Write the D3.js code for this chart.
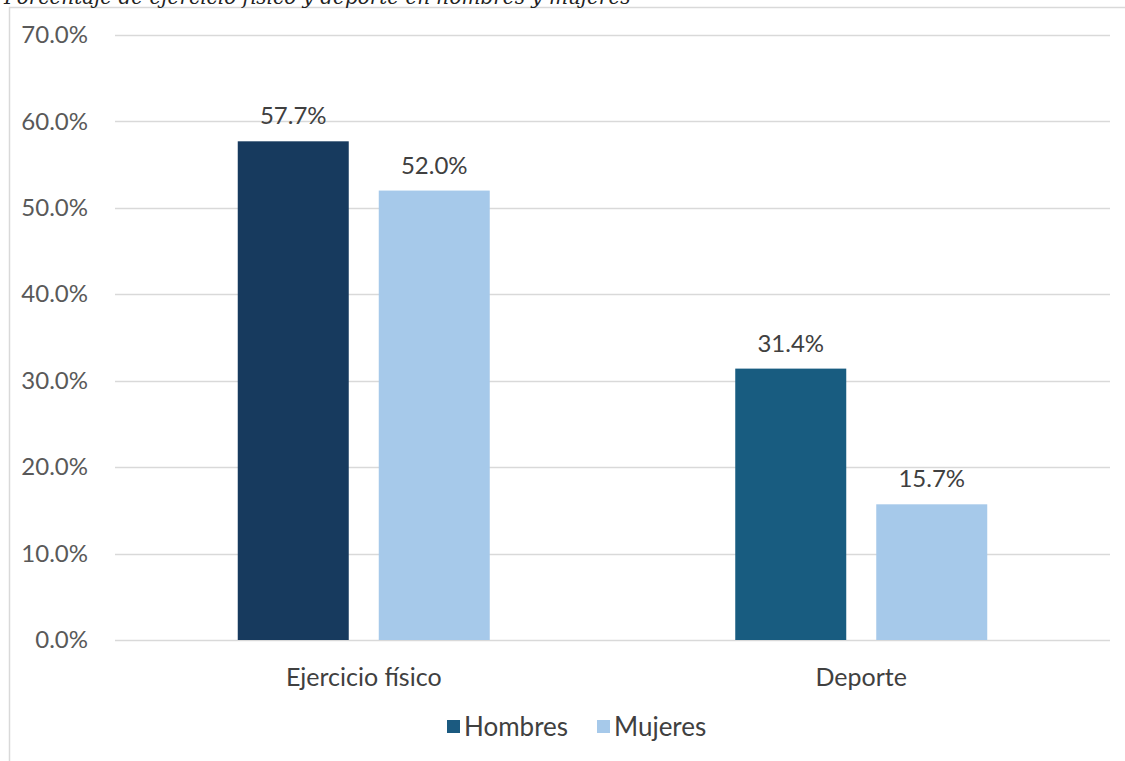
<!DOCTYPE html>
<html><head><meta charset="utf-8">
<script src="https://cdn.jsdelivr.net/npm/d3@7"></script>
<style>body{margin:0;background:#fff}svg{display:block}</style>
</head><body>
<script>
const categories = ["Ejercicio físico", "Deporte"];
const seriesNames = ["Hombres", "Mujeres"];
const hombres = [57.7, 31.4];
const mujeres = [52.0, 15.7];
const yTicks = [0, 10, 20, 30, 40, 50, 60, 70];
const title = "Porcentaje de ejercicio físico y deporte en hombres y mujeres";

(function () {
const W = 1125, H = 761;
const svg = d3.select("body").append("svg").attr("width", W).attr("height", H);
const font = "Lato, 'Open Sans', sans-serif";

// frame
svg.append("path").attr("d", `M9.5,${H} V7.5 H${W}`).attr("fill", "none").attr("stroke", "#d9d9d9").attr("stroke-width", 1.5);

svg.append("text").attr("x", 4).attr("y", 4).attr("font-family", "'DejaVu Serif', serif")
  .attr("font-style", "italic").attr("font-size", 20).attr("fill", "#222").text(title);

const mLeft = 115, mRight = 1110, mTop = 35, mBottom = 640;
const y = d3.scaleLinear().domain([0, 70]).range([mBottom, mTop]);
const x0 = d3.scaleBand().domain(categories).range([mLeft, mRight]);
const colorsH = ["#173a5e", "#185c80"];
const colorM = "#a6c9ea";

// gridlines
svg.append("g").selectAll("line").data(yTicks).join("line")
  .attr("x1", mLeft).attr("x2", mRight).attr("y1", d => Math.round(y(d)) + 0.5).attr("y2", d => Math.round(y(d)) + 0.5)
  .attr("stroke", "#d9d9d9").attr("stroke-width", 1.5);

// y axis labels
const yAxis = d3.axisLeft(y).tickValues(yTicks).tickFormat(d => d.toFixed(1) + "%").tickSize(0).tickPadding(0);
const ga = svg.append("g").attr("transform", `translate(88,0)`).call(yAxis);
ga.select(".domain").remove();
ga.selectAll("text").attr("font-family", font).attr("font-size", 24).attr("fill", "#595959");

const barW = 111, gap = 30;
const data = [];
categories.forEach((c, i) => {
  const cx = x0(c) + x0.bandwidth() / 2;
  data.push({ c, v: hombres[i], x: cx - gap / 2 - barW, color: colorsH[i] });
  data.push({ c, v: mujeres[i], x: cx + gap / 2, color: colorM });
});

svg.append("g").selectAll("rect").data(data).join("rect")
  .attr("x", d => d.x).attr("width", barW)
  .attr("y", d => y(d.v)).attr("height", d => y(0) - y(d.v))
  .attr("fill", d => d.color);

svg.append("g").selectAll("text").data(data).join("text")
  .attr("x", d => d.x + barW / 2).attr("y", d => y(d.v) - 17)
  .attr("text-anchor", "middle").attr("font-family", font).attr("font-size", 24).attr("fill", "#404040")
  .text(d => d.v.toFixed(1) + "%");

// category labels
const xAxis = d3.axisBottom(x0).tickSize(0).tickPadding(0);
const gx = svg.append("g").attr("transform", `translate(0,686)`).call(xAxis);
gx.select(".domain").remove();
gx.selectAll("text").attr("dy", 0).attr("font-family", font).attr("font-size", 25).attr("fill", "#404040");

// legend
const legend = [{ n: seriesNames[0], c: "#1b5a80", x: 447 }, { n: seriesNames[1], c: colorM, x: 597 }];
const lg = svg.append("g");
legend.forEach(l => {
  lg.append("rect").attr("x", l.x).attr("y", 720).attr("width", 13).attr("height", 13).attr("fill", l.c);
  lg.append("text").attr("x", l.x + 17).attr("y", 736).attr("font-family", font).attr("font-size", 26).attr("fill", "#404040").text(l.n);
});
})();
</script>
</body></html>
